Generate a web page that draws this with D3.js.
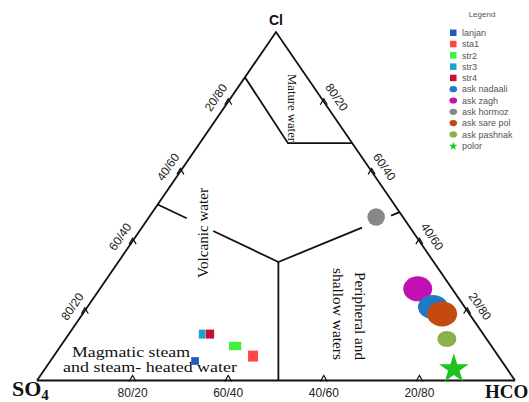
<!DOCTYPE html>
<html><head><meta charset="utf-8">
<script src="https://cdn.jsdelivr.net/npm/d3@7"></script>
<style>html,body{margin:0;padding:0;background:#fff;}svg{display:block;}</style>
</head><body>
<svg id="chart" width="529" height="402"></svg>
<script>
// ---------- data (percent Cl / SO4 / HCO3) ----------
const samples = ["lanjan","sta1","str2","str3","str4","ask nadaali","ask zagh","ask hormoz","ask sare pol","ask pashnak","polor"];
const clVals   = [5.6, 7.0, 9.9, 13.3, 13.3, 21.1, 26.3, 46.9, 19.1, 11.9, 3.6];
const so4Vals  = [64.2, 51.3, 53.6, 58.8, 57.1, 6.6, 7.2, 5.6, 5.7, 8.3, 11.0];
const hco3Vals = [30.3, 41.7, 36.5, 27.9, 29.5, 72.3, 66.5, 47.5, 75.2, 79.8, 85.4];
const markerType = ["square","square","square","square","square","circle","circle","circle","circle","circle","star"];
// draw order (bottom to top)
const drawOrder = ["ask zagh","ask nadaali","ask hormoz","ask sare pol","ask pashnak","polor","lanjan","str3","str4","str2","sta1"];

const tickValues = [20, 40, 60, 80];
const leftTickLabels   = ["80/20","60/40","40/60","20/80"];   // Cl = 20..80 on SO4-Cl edge
const rightTickLabels  = ["20/80","40/60","60/40","80/20"];   // Cl = 20..80 on HCO-Cl edge
const bottomTickLabels = ["80/20","60/40","40/60","20/80"];   // HCO = 20..80 on SO4-HCO edge

// field boundaries (Cl, SO4, HCO3)
const junction   = [34, 32.5, 33.5];
const volcLeft   = [50.5, 49.5, 0];
const volcRight  = [48.3, 0, 51.7];
const bottomEnd  = [0, 49.5, 50.5];
const matureA    = [87, 13, 0];
const matureB    = [68.1, 13.45, 18.45];
const matureC    = [68.1, 0, 31.9];

// ---------- styles ----------
const colors = ["#1f5cc0","#ff4646","#3ff23f","#1ea3c6","#c4103a","#1c7bc4","#c211b2","#888888","#c44a0e","#8db04e","#1fc21f"];
const sizeW  = [7.7, 10, 12.3, 6.7, 8.3, 30, 29, 17.5, 30, 19, 15.5];
const sizeH  = [7.7, 11, 8.3, 9, 9, 24, 25, 17.5, 25, 16, 15.5];

const svg = d3.select("#chart");
const color = d3.scaleOrdinal().domain(samples).range(colors);

// ---------- ternary projection through d3 scales ----------
const yScale = d3.scaleLinear().domain([0,100]).range([380.5, 32]);
const leftX  = d3.scaleLinear().domain([0,100]).range([37, 276]);
const rightX = d3.scaleLinear().domain([0,100]).range([515, 276]);
const fracX  = d3.scaleLinear().domain([0,1]);
function proj(t){
  const s = t[0]+t[1]+t[2];
  const cl = t[0]/s*100, so = t[1]/s*100, hc = t[2]/s*100;
  const xl = leftX(cl), xr = rightX(cl);
  const f = (so+hc) > 0 ? hc/(so+hc) : 0.5;
  return [fracX.range([xl, xr])(f), yScale(cl)];
}
function lerp(a,b,t){ return [a[0]+(b[0]-a[0])*t, a[1]+(b[1]-a[1])*t]; }
const line = d3.line();

// triangle
const vTop = proj([100,0,0]), vLeft = proj([0,100,0]), vRight = proj([0,0,100]);
svg.append("path").attr("d", line([vLeft, vTop, vRight]))
  .attr("fill","none").attr("stroke","#111").attr("stroke-width",1.8);
svg.append("path").attr("d", line([vLeft, vRight]))
  .attr("fill","none").attr("stroke","#111").attr("stroke-width",2.2);

// boundaries
function seg(a,b,t0,t1){
  const pa = proj(a), pb = proj(b);
  svg.append("path").attr("d", line([lerp(pa,pb,t0), lerp(pa,pb,t1)]))
    .attr("fill","none").attr("stroke","#111").attr("stroke-width",1.8);
}
seg(volcLeft, junction, 0, 0.24);
seg(volcLeft, junction, 0.46, 1);
seg(junction, volcRight, 0, 0.69);
seg(junction, volcRight, 0.93, 1);
seg(junction, bottomEnd, 0, 1);
svg.append("path").attr("d", line([matureA, matureB, matureC].map(proj)))
  .attr("fill","none").attr("stroke","#111").attr("stroke-width",1.8);

// ticks
function chevron(p){
  svg.append("path")
    .attr("d", `M${p[0]-3.5},${p[1]+3}L${p[0]},${p[1]-3}L${p[0]+3.5},${p[1]+3}`)
    .attr("fill","none").attr("stroke","#111").attr("stroke-width",1.2);
}
const tickFont = "Liberation Sans, Arial, sans-serif";
const nLeft = [-0.824,-0.566], dLeft = [-0.566, 0.824];
const nRight = [0.825,-0.565], dRight = [0.565, 0.825];
tickValues.forEach((v,i)=>{
  const pl = proj([v,100-v,0]);
  chevron(pl);
  svg.append("text").text(leftTickLabels[i])
    .attr("transform",`translate(${pl[0]+nLeft[0]*12.5+dLeft[0]*3.5},${pl[1]+nLeft[1]*12.5+dLeft[1]*3.5}) rotate(-55.5)`)
    .attr("text-anchor","middle").attr("dominant-baseline","central")
    .attr("font-family",tickFont).attr("font-size",12).attr("fill","#222");
  const pr = proj([v,0,100-v]);
  chevron(pr);
  svg.append("text").text(rightTickLabels[i])
    .attr("transform",`translate(${pr[0]+nRight[0]*13+dRight[0]*3.5},${pr[1]+nRight[1]*13+dRight[1]*3.5}) rotate(55.6)`)
    .attr("text-anchor","middle").attr("dominant-baseline","central")
    .attr("font-family",tickFont).attr("font-size",12).attr("fill","#222");
  const pb = proj([0,100-v,v]);
  chevron([pb[0], pb[1]-2]);
  svg.append("text").text(bottomTickLabels[i])
    .attr("x",pb[0]).attr("y",pb[1]+16)
    .attr("text-anchor","middle")
    .attr("font-family",tickFont).attr("font-size",12).attr("fill","#222");
});

// corner labels
svg.append("text").text("Cl").attr("x",vTop[0]).attr("y",25).attr("text-anchor","middle")
  .attr("font-family",tickFont).attr("font-weight","bold").attr("font-size",14).attr("fill","#111");
const serif = "Liberation Serif, Times New Roman, serif";
const so4 = svg.append("text").attr("x",12).attr("y",396)
  .attr("font-family",serif).attr("font-weight","bold").attr("font-size",22).attr("fill","#111");
so4.append("tspan").text("SO");
so4.append("tspan").text("4").attr("font-size",15).attr("dy",4);
svg.append("text").text("HCO").attr("x",485).attr("y",398)
  .attr("font-family",serif).attr("font-weight","bold").attr("font-size",19).attr("fill","#111");

// field labels
function rotText(txt,x,y,rot,size,len){
  svg.append("text").text(txt)
    .attr("transform",`translate(${x},${y}) rotate(${rot})`)
    .attr("text-anchor","middle").attr("dominant-baseline","central")
    .attr("font-family",serif).attr("font-size",size).attr("fill","#111")
    .attr("textLength",len).attr("lengthAdjust","spacingAndGlyphs");
}
rotText("Mature water", 292, 108, 90, 12.5, 68);
rotText("Volcanic water", 203, 233, -90, 15, 90);
rotText("Peripheral and", 360, 316, 90, 15, 88);
rotText("shallow waters", 338, 314, 90, 15, 92);
svg.append("text").text("Magmatic steam").attr("x",72).attr("y",357)
  .attr("font-family",serif).attr("font-size",14).attr("fill","#111")
  .attr("textLength",118).attr("lengthAdjust","spacingAndGlyphs");
svg.append("text").text("and steam- heated water").attr("x",63).attr("y",372)
  .attr("font-family",serif).attr("font-size",14).attr("fill","#111")
  .attr("textLength",174).attr("lengthAdjust","spacingAndGlyphs");

// data points
drawOrder.forEach(name=>{
  const i = samples.indexOf(name);
  const p = proj([clVals[i], so4Vals[i], hco3Vals[i]]);
  const c = color(name);
  if(markerType[i]==="square"){
    svg.append("rect").attr("x",p[0]-sizeW[i]/2).attr("y",p[1]-sizeH[i]/2)
      .attr("width",sizeW[i]).attr("height",sizeH[i]).attr("fill",c);
  } else if(markerType[i]==="circle"){
    svg.append("ellipse").attr("cx",p[0]).attr("cy",p[1])
      .attr("rx",sizeW[i]/2).attr("ry",sizeH[i]/2).attr("fill",c);
  } else {
    const r = sizeW[i];
    svg.append("path").attr("transform",`translate(${p[0]},${p[1]+1})`)
      .attr("d", d3.symbol().type(d3.symbolStar).size(r*r/0.8908)()).attr("fill",c);
  }
});

// legend
const lg = svg.append("g");
lg.append("text").text("Legend").attr("x",482).attr("y",17).attr("text-anchor","middle")
  .attr("font-family",tickFont).attr("font-size",8).attr("fill","#555");
const legY = d3.scaleLinear().domain([0, samples.length-1]).range([32.7, 145.7]);
samples.forEach((name,i)=>{
  const y = legY(i);
  const c = color(name);
  if(markerType[i]==="square"){
    lg.append("rect").attr("x",450).attr("y",y-3.2).attr("width",6.5).attr("height",6.5).attr("fill",c);
  } else if(markerType[i]==="circle"){
    lg.append("ellipse").attr("cx",453.3).attr("cy",y).attr("rx",3.8).attr("ry",3.1).attr("fill",c);
  } else {
    lg.append("path").attr("transform",`translate(453.3,${y+0.5})`)
      .attr("d", d3.symbol().type(d3.symbolStar).size(22)()).attr("fill",c);
  }
  lg.append("text").text(name).attr("x",462).attr("y",y+3.2)
    .attr("font-family",tickFont).attr("font-size",9).attr("fill","#555");
});
</script>
</body></html>
